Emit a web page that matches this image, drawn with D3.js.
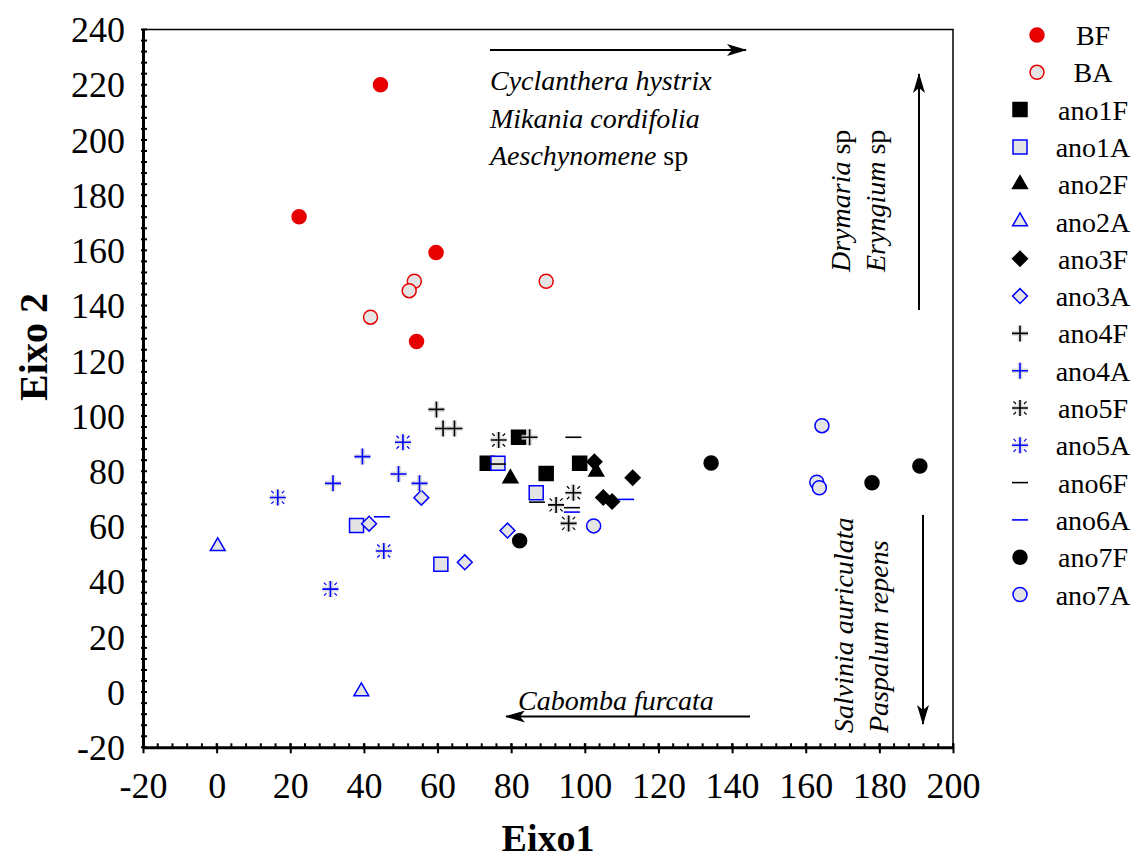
<!DOCTYPE html>
<html>
<head>
<meta charset="utf-8">
<script src="https://cdn.jsdelivr.net/npm/d3@7"></script>
<style>
  body { margin: 0; background: #fff; }
  svg { display: block; }
  text { font-family: "Liberation Serif", "Times New Roman", serif; fill: #000; }
</style>
</head>
<body>
<script>
"use strict";

// ---- data ----
const seriesNames = ["BF", "BA", "ano1F", "ano1A", "ano2F", "ano2A", "ano3F", "ano3A",
    "ano4F", "ano4A", "ano5F", "ano5A", "ano6F", "ano6A", "ano7F", "ano7A"]

const BF = [[44.5, 220], [22.4, 172.2], [59.6, 159.2], [54.3, 127]]
const BA = [[53.7, 148.8], [52.3, 145.4], [41.8, 135.8], [89.5, 148.8]]
const ano1F = [[73.5, 82.9], [82, 92.3], [89.5, 79.2], [98.6, 82.9]]
const ano1A = [[38, 60.3], [60.9, 46.3], [76.4, 82.9], [86.8, 72.2]]
const ano2F = [[79.8, 77.4], [103.1, 79.8]]
const ano2A = [[0.3, 52.8], [39.3, 0.2]]
const ano3F = [[102.6, 83.4], [113, 77.6], [105, 70.5], [107.4, 69]]
const ano3A = [[55.6, 70.4], [41.4, 61], [67.4, 47], [79, 58.5]]
const ano4F = [[59.7, 102.4], [61.5, 95.5], [64.6, 95.5], [85, 92.3]]
const ano4A = [[39.6, 85.3], [49.4, 79], [31.6, 75.6], [55.1, 75.6]]
const ano5F = [[76.6, 91.3], [96.9, 72.2], [92.2, 67.8], [95.6, 61.1]]
const ano5A = [[16.6, 70.5], [50.6, 90.5], [45.4, 51.1], [30.9, 37.3]]
const ano6F = [[96.9, 92.3], [76.4, 82.6], [87, 68.8], [96.5, 66.8]]
const ano6A = [[44.9, 63.5], [111.2, 69.8], [96.5, 65.2]]
const ano7F = [[82.3, 54.8], [134.3, 83], [178, 75.8], [191, 81.9]]
const ano7A = [[102.4, 60.2], [164.4, 96.5], [163, 76], [163.7, 74]]

const xTicks = [-20, 0, 20, 40, 60, 80, 100, 120, 140, 160, 180, 200]
const yTicks = [-20, 0, 20, 40, 60, 80, 100, 120, 140, 160, 180, 200, 220, 240]

const topSpecies = ["Cyclanthera hystrix", "Mikania cordifolia", "Aeschynomene"]
const upSpecies = ["Drymaria", "Eryngium"]
const downSpecies = ["Salvinia auriculata", "Paspalum repens"]
const leftSpecies = "Cabomba furcata"

// ---- layout ----
const measurements = {
    width: 1134,
    height: 862,
    left: 143,
    right: 953,
    top: 29.5,
    bottom: 747.3
}

const red = "#e60000"
const blue = "#0000ff"
const grayFill = "#e4e4e4"

// marker style per series
const styles = {
    BF: { shape: "circle", fill: red, stroke: red },
    BA: { shape: "circle", fill: grayFill, stroke: red },
    ano1F: { shape: "square", fill: "#000", stroke: "#000" },
    ano1A: { shape: "square", fill: grayFill, stroke: blue },
    ano2F: { shape: "triangle", fill: "#000", stroke: "#000" },
    ano2A: { shape: "triangle", fill: grayFill, stroke: blue },
    ano3F: { shape: "diamond", fill: "#000", stroke: "#000" },
    ano3A: { shape: "diamond", fill: grayFill, stroke: blue },
    ano4F: { shape: "plus", stroke: "#000" },
    ano4A: { shape: "plus", stroke: blue },
    ano5F: { shape: "star", stroke: "#000" },
    ano5A: { shape: "star", stroke: blue },
    ano6F: { shape: "minus", stroke: "#000" },
    ano6A: { shape: "minus", stroke: blue },
    ano7F: { shape: "circle", fill: "#000", stroke: "#000" },
    ano7A: { shape: "circle", fill: grayFill, stroke: blue }
}
const seriesData = { BF, BA, ano1F, ano1A, ano2F, ano2A, ano3F, ano3A,
    ano4F, ano4A, ano5F, ano5A, ano6F, ano6A, ano7F, ano7A }

const svg = d3.select("body").append("svg")
    .attr("width", measurements.width)
    .attr("height", measurements.height)

const scaleX = d3.scaleLinear()
    .domain([-20, 200])
    .range([measurements.left, measurements.right])
const scaleY = d3.scaleLinear()
    .domain([-20, 240])
    .range([measurements.bottom, measurements.top])

// arrow head marker
svg.append("defs").append("marker")
    .attr("id", "head")
    .attr("viewBox", "0 0 20 12")
    .attr("refX", 19)
    .attr("refY", 6)
    .attr("markerWidth", 20)
    .attr("markerHeight", 12)
    .attr("markerUnits", "userSpaceOnUse")
    .attr("orient", "auto")
    .append("path")
    .attr("d", "M0,0 L20,6 L0,12 L5,6 Z")
    .attr("fill", "#000")

drawFrame()
drawAxes()
drawAnnotations()
plotData()
drawLegend()

function drawFrame() {
    // thin top and right border
    svg.append("path")
        .attr("d", `M${measurements.left},${measurements.top}H${measurements.right}V${measurements.bottom}`)
        .attr("fill", "none")
        .attr("stroke", "#000")
        .attr("stroke-width", 1.5)
}

function drawAxes() {
    const minorX = d3.range(-20, 201, 4)
    const minorY = d3.range(-20, 241, 4)

    // minor ticks
    svg.append("g").selectAll("line").data(minorX).enter().append("line")
        .attr("x1", d => scaleX(d)).attr("x2", d => scaleX(d))
        .attr("y1", measurements.bottom - 4).attr("y2", measurements.bottom + 1)
        .attr("stroke", "#000").attr("stroke-width", 2)
    svg.append("g").selectAll("line").data(minorY).enter().append("line")
        .attr("y1", d => scaleY(d)).attr("y2", d => scaleY(d))
        .attr("x1", measurements.left - 2).attr("x2", measurements.left + 4)
        .attr("stroke", "#000").attr("stroke-width", 2)

    // plain hyphen for negatives, like the original
    const fmt = d => String(d)

    const xAxis = d3.axisBottom(scaleX)
        .tickValues(xTicks)
        .tickFormat(fmt)
        .tickSizeOuter(0)
        .tickSizeInner(6)
    const yAxis = d3.axisLeft(scaleY)
        .tickValues(yTicks)
        .tickFormat(fmt)
        .tickSizeOuter(0)
        .tickSizeInner(7)

    const gx = svg.append("g")
        .attr("transform", `translate(0,${measurements.bottom})`)
        .call(xAxis)
    gx.select(".domain").attr("stroke-width", 3)
    gx.selectAll(".tick line").attr("y1", -4).attr("stroke-width", 2)
    gx.selectAll(".tick text")
        .attr("y", 51).attr("dy", 0)
        .style("font-size", "36px")
        .style("font-family", "Liberation Serif")

    const gy = svg.append("g")
        .attr("transform", `translate(${measurements.left},0)`)
        .call(yAxis)
    gy.select(".domain").attr("stroke-width", 3)
    gy.selectAll(".tick line").attr("x2", 2).attr("stroke-width", 2)
    gy.selectAll(".tick text")
        .attr("x", -18).attr("dy", "0.34em")
        .style("font-size", "36px")
        .style("font-family", "Liberation Serif")

    // axis titles
    svg.append("text")
        .attr("x", 548)
        .attr("y", 851)
        .attr("text-anchor", "middle")
        .style("font-size", "38px")
        .style("font-weight", "bold")
        .text("Eixo1")

    svg.append("text")
        .attr("transform", "translate(47,347) rotate(-90)")
        .attr("text-anchor", "middle")
        .style("font-size", "40px")
        .style("font-weight", "bold")
        .text("Eixo 2")
}

function drawAnnotations() {
    const arrow = (x1, y1, x2, y2) => svg.append("line")
        .attr("x1", x1).attr("y1", y1).attr("x2", x2).attr("y2", y2)
        .attr("stroke", "#000").attr("stroke-width", 2)
        .attr("marker-end", "url(#head)")

    // top: arrow to the right
    arrow(490, 50, 746, 50)
    const top = svg.append("g").style("font-size", "28px")
    topSpecies.forEach((name, i) => {
        const t = top.append("text")
            .attr("x", 490)
            .attr("y", 90 + i * 37.5)
        t.append("tspan").style("font-style", "italic").text(name)
        if (i == 2) t.append("tspan").text(" sp")
    })

    // right top: arrow up
    arrow(919, 310, 919, 74)
    upSpecies.forEach((name, i) => {
        const t = svg.append("text")
            .attr("transform", `translate(${850 + i * 35},272) rotate(-90)`)
            .style("font-size", "28px")
        t.append("tspan").style("font-style", "italic").text(name)
        t.append("tspan").text(" sp")
    })

    // right bottom: arrow down
    arrow(923, 515, 923, 724)
    downSpecies.forEach((name, i) => {
        svg.append("text")
            .attr("transform", `translate(${853 + i * 35},733) rotate(-90)`)
            .style("font-size", "28px")
            .style("font-style", "italic")
            .text(name)
    })

    // bottom: arrow to the left
    arrow(750, 716.5, 506, 716.5)
    svg.append("text")
        .attr("x", 518)
        .attr("y", 710)
        .style("font-size", "28px")
        .style("font-style", "italic")
        .text(leftSpecies)
}

// draw one marker of a series into group g at (cx, cy)
function drawMarker(g, name, cx, cy) {
    const st = styles[name]
    const m = g.append("g").attr("transform", `translate(${cx},${cy})`)
    if (st.shape == "circle") {
        m.append("path")
            .attr("d", d3.symbol(d3.symbolCircle, Math.PI * 7 * 7)())
            .attr("fill", st.fill).attr("stroke", st.stroke).attr("stroke-width", 1.5)
    } else if (st.shape == "square") {
        m.append("path")
            .attr("d", d3.symbol(d3.symbolSquare, 14 * 14)())
            .attr("fill", st.fill).attr("stroke", st.stroke).attr("stroke-width", 1.5)
    } else if (st.shape == "diamond") {
        m.append("path")
            .attr("d", d3.symbol(d3.symbolSquare, 10.5 * 10.5)())
            .attr("transform", "rotate(45)")
            .attr("fill", st.fill).attr("stroke", st.stroke).attr("stroke-width", 1.5)
    } else if (st.shape == "triangle") {
        m.append("path")
            .attr("d", d3.symbol(d3.symbolTriangle, 95)())
            .attr("fill", st.fill).attr("stroke", st.stroke).attr("stroke-width", 1.5)
    } else if (st.shape == "plus" || st.shape == "star") {
        m.append("path")
            .attr("d", "M-8,0H8M0,-8V8")
            .attr("stroke", "#d6d6d6").attr("stroke-width", 5).attr("opacity", 0.8)
        m.append("path")
            .attr("d", "M-8,0H8M0,-8V8")
            .attr("stroke", st.stroke).attr("stroke-width", 1.6)
        if (st.shape == "star") {
            m.append("path")
                .attr("d", "M4,4L6.5,6.5M-4,4L-6.5,6.5M4,-4L6.5,-6.5M-4,-4L-6.5,-6.5")
                .attr("stroke", st.stroke).attr("stroke-width", 1.2)
        }
    } else if (st.shape == "minus") {
        m.append("path")
            .attr("d", "M-8,0H8")
            .attr("stroke", st.stroke).attr("stroke-width", 1.6)
    }
}

function plotData() {
    const g = svg.append("g")
    seriesNames.forEach(name => {
        seriesData[name].forEach(d => drawMarker(g, name, scaleX(d[0]), scaleY(d[1])))
    })
}

function drawLegend() {
    const legend = svg.append("g")
    seriesNames.forEach((name, i) => {
        const y = 35 + i * 37.3
        const mx = i < 2 ? 1037 : 1020
        drawMarker(legend, name, mx, y)
        legend.append("text")
            .attr("x", 1093)
            .attr("y", y + 10)
            .attr("text-anchor", "middle")
            .style("font-size", "28px")
            .text(name)
    })
}
</script>
</body>
</html>
